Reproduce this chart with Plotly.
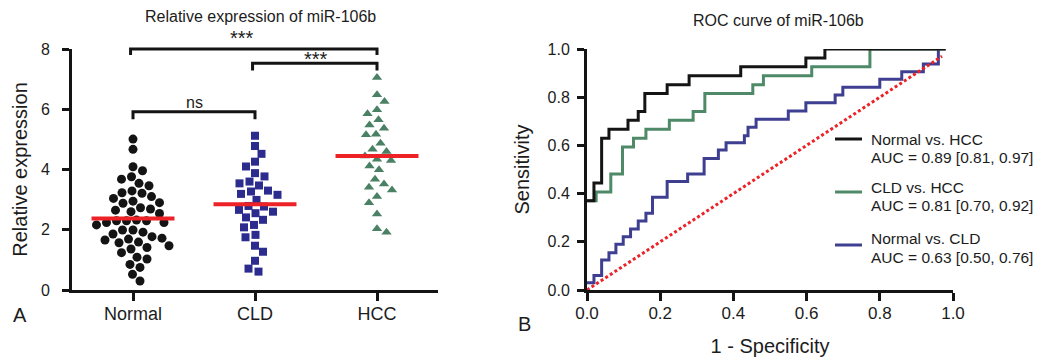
import numpy as np
import plotly.graph_objects as go

W, H = 1043, 362
OFF = 8  # page body margin offset seen in the screenshot
FONT = "Liberation Sans, Arial, Helvetica, sans-serif"
INK = "#1c1c1c"

# ---------------- data ----------------
groups = ["Normal", "CLD", "HCC"]
normal_expr = [5.01, 4.67, 4.09, 3.96, 3.76, 3.68, 3.54, 3.46, 3.29, 3.23, 3.21, 3.10,
               3.04, 2.95, 2.90, 2.88, 2.73, 2.69, 2.65, 2.60, 2.54, 2.32, 2.30, 2.30,
               2.30, 2.24, 2.24, 2.16, 1.99, 1.99, 1.92, 1.86, 1.77, 1.72, 1.69, 1.66,
               1.59, 1.57, 1.47, 1.41, 1.36, 1.24, 1.09, 1.03, 0.85, 0.75, 0.52, 0.30]
cld_expr = [5.12, 4.78, 4.52, 4.26, 4.10, 3.88, 3.77, 3.60, 3.54, 3.47, 3.30, 3.27,
            3.19, 3.16, 2.99, 2.79, 2.77, 2.66, 2.60, 2.55, 2.41, 2.33, 2.16, 2.08,
            1.83, 1.75, 1.47, 1.27, 0.97, 0.71, 0.61]
hcc_expr = [7.05, 6.48, 6.26, 5.98, 5.85, 5.65, 5.48, 5.37, 5.17, 5.15, 4.87, 4.67,
            4.60, 4.45, 4.34, 4.30, 4.12, 3.99, 3.68, 3.52, 3.41, 3.32, 3.10, 2.90,
            2.52, 2.03, 1.92]
group_centre = [2.37, 2.85, 4.45]

sig_pairs = [(0, 2), (1, 2), (0, 1)]
sig_labels = ["***", "***", "ns"]

roc_names = ["Normal vs. HCC", "CLD vs. HCC", "Normal vs. CLD"]
roc_auc = ["AUC = 0.89 [0.81, 0.97]", "AUC = 0.81 [0.70, 0.92]", "AUC = 0.63 [0.50, 0.76]"]
fpr_normal_hcc = [0.0, 0.019, 0.04, 0.06, 0.112, 0.14, 0.158, 0.219, 0.279, 0.42, 0.598, 0.65, 0.98]
tpr_normal_hcc = [0.370, 0.444, 0.630, 0.667, 0.704, 0.741, 0.815, 0.852, 0.889, 0.926, 0.963, 1.0, 1.0]
fpr_cld_hcc = [0.0, 0.025, 0.065, 0.097, 0.127, 0.161, 0.225, 0.29, 0.322, 0.453, 0.482, 0.614, 0.773, 0.98]
tpr_cld_hcc = [0.370, 0.407, 0.481, 0.593, 0.630, 0.667, 0.704, 0.741, 0.815, 0.852, 0.889, 0.926, 1.0, 1.0]
fpr_normal_cld = [0.0, 0.019, 0.04, 0.06, 0.079, 0.099, 0.119, 0.14, 0.161, 0.179, 0.219, 0.275,
                  0.32, 0.359, 0.38, 0.43, 0.44, 0.462, 0.55, 0.598, 0.678, 0.699, 0.80, 0.86,
                  0.919, 0.96]
tpr_normal_cld = [0.03, 0.06, 0.124, 0.155, 0.19, 0.221, 0.253, 0.286, 0.318, 0.385, 0.45, 0.481,
                  0.546, 0.581, 0.611, 0.64, 0.675, 0.708, 0.743, 0.777, 0.809, 0.841, 0.874, 0.906,
                  0.938, 1.0]
chance_fpr = [0.0, 0.97]
chance_tpr = [0.0, 0.97]

# ---------------- styling ----------------
C_BLACK = "#141414"
C_BLUE_PT = "#2c2c8f"
C_GREEN_PT = "#4a8063"
C_RED = "#ec2227"
C_GREEN_LN = "#4e8a68"
C_BLUE_LN = "#3f3f92"

# plot areas in screen pixels (as seen in the reference)
LX0, LX1 = 72, 438
RX0, RX1 = 587, 953
PY0, PY1 = 49, 290  # top, bottom
L_XR = (-0.5, 2.5)
L_YR = (0, 8)


def px(x):
    return (x - OFF) / W


def py(y):
    return 1 - (y - OFF) / H


def l_xpx(xc):
    return LX0 + (xc - L_XR[0]) / (L_XR[1] - L_XR[0]) * (LX1 - LX0)


def l_ypx(v):
    return PY1 - (v - L_YR[0]) / (L_YR[1] - L_YR[0]) * (PY1 - PY0)


PPX = (LX1 - LX0) / (L_XR[1] - L_XR[0])
PPY = (PY1 - PY0) / (L_YR[1] - L_YR[0])


def swarm_offsets(values, diam_px, max_px=70):
    vals = np.asarray(values, float)
    order = np.argsort(-vals, kind="stable")
    placed = []
    offs = np.zeros(len(vals))
    cands = np.arange(0, max_px + 0.25, 0.5)
    flip = 1
    for i in order:
        y = vals[i] * PPY
        found = None
        for c in cands:
            sides = (0.0,) if c == 0 else (flip * c, -flip * c)
            for s in sides:
                if all((s - a) ** 2 + (y - b) ** 2 >= diam_px ** 2 for a, b in placed):
                    found = s
                    break
            if found is not None:
                break
        if found != 0:
            flip = -np.sign(found)
        placed.append((found, y))
        offs[i] = found / PPX
    return offs


fig = go.Figure()

series = [(normal_expr, "circle", 9, C_BLACK, 10.0),
          (cld_expr, "square", 8, C_BLUE_PT, 10.0),
          (hcc_expr, "triangle-up", 9, C_GREEN_PT, 10.0)]
for gi, (vals, sym, size, col, d) in enumerate(series):
    offs = swarm_offsets(vals, d)
    fig.add_trace(go.Scatter(
        x=gi + offs, y=vals, mode="markers", name=groups[gi],
        marker=dict(symbol=sym, size=size, color=col, line=dict(width=0)),
        xaxis="x", yaxis="y", showlegend=False, cliponaxis=False))

for gi, m in enumerate(group_centre):
    fig.add_trace(go.Scatter(
        x=[gi - 0.34, gi + 0.34], y=[m, m], mode="lines",
        line=dict(color=C_RED, width=4), xaxis="x", yaxis="y", showlegend=False,
        hoverinfo="skip"))

roc = [(fpr_normal_cld, tpr_normal_cld, C_BLUE_LN, 2),
       (fpr_cld_hcc, tpr_cld_hcc, C_GREEN_LN, 1),
       (fpr_normal_hcc, tpr_normal_hcc, C_BLACK, 0)]
for fx, ty, col, ni in roc:
    fig.add_trace(go.Scatter(
        x=fx, y=ty, mode="lines", line=dict(color=col, width=3, shape="hv"),
        name=roc_names[ni], xaxis="x2", yaxis="y2", showlegend=False))

fig.add_trace(go.Scatter(
    x=chance_fpr, y=chance_tpr, mode="lines",
    line=dict(color=C_RED, width=3, dash="3px,2.5px"),
    xaxis="x2", yaxis="y2", showlegend=False, hoverinfo="skip"))

shapes = []
annotations = []

# significance brackets (left panel)
bracket_levels = [(8.0, 7.8), (7.53, 7.29), (5.92, 5.67)]
bracket_x_adj = [(-0.02, 0.0), (-0.02, 0.0), (0.0, 0.0)]
label_y = [8.33, 7.62, 6.24]
label_x = [0.89, None, None]
for (a, b), (top, foot), (da, db), lab, ly, lx in zip(sig_pairs, bracket_levels, bracket_x_adj,
                                                       sig_labels, label_y, label_x):
    xa, xb = l_xpx(a + da), l_xpx(b + db)
    yt, yf = l_ypx(top), l_ypx(foot)
    path = (f"M {px(xa)},{py(yf)} L {px(xa)},{py(yt)} "
            f"L {px(xb)},{py(yt)} L {px(xb)},{py(yf)}")
    shapes.append(dict(type="path", xref="paper", yref="paper", path=path,
                       line=dict(color=C_BLACK, width=3)))
    cx = (a + b) / 2 if lx is None else lx
    is_star = lab != "ns"
    annotations.append(dict(x=px(l_xpx(cx)), y=py(l_ypx(ly) + (-1 if is_star else 0)),
                            xref="paper", yref="paper", text=lab, showarrow=False,
                            font=dict(family=FONT, size=20 if is_star else 16, color=INK),
                            xanchor="center", yanchor="middle"))

# manual legend (right panel)
leg_line_y = [139, 192, 245]
leg_t1_y = [140, 187, 238]
leg_t2_y = [158, 205, 257]
leg_cols = [C_BLACK, C_GREEN_LN, C_BLUE_LN]
for i in range(3):
    shapes.append(dict(type="line", xref="paper", yref="paper",
                       x0=px(835), x1=px(862), y0=py(leg_line_y[i]), y1=py(leg_line_y[i]),
                       line=dict(color=leg_cols[i], width=3)))
    for txt, yy in ((roc_names[i], leg_t1_y[i]), (roc_auc[i], leg_t2_y[i])):
        annotations.append(dict(x=px(869), y=py(yy), xref="paper", yref="paper", text=txt,
                                showarrow=False, xanchor="left", yanchor="middle",
                                font=dict(family=FONT, size=15.5, color=INK)))

# titles and panel letters
annotations += [
    dict(x=px(260), y=py(17), xref="paper", yref="paper", text="Relative expression of miR-106b",
         showarrow=False, xanchor="center", yanchor="middle",
         font=dict(family=FONT, size=16, color=INK)),
    dict(x=px(778), y=py(21), xref="paper", yref="paper", text="ROC curve of miR-106b",
         showarrow=False, xanchor="center", yanchor="middle",
         font=dict(family=FONT, size=16, color=INK)),
    dict(x=px(20), y=py(315), xref="paper", yref="paper", text="A", showarrow=False,
         xanchor="center", yanchor="middle", font=dict(family=FONT, size=20, color=INK)),
    dict(x=px(524), y=py(324), xref="paper", yref="paper", text="B", showarrow=False,
         xanchor="center", yanchor="middle", font=dict(family=FONT, size=20, color=INK)),
]

axis_common = dict(showline=True, linewidth=3, linecolor=C_BLACK, ticks="outside",
                   tickwidth=2.5, tickcolor=C_BLACK, showgrid=False, zeroline=False,
                   fixedrange=True, automargin=False)

fig.update_layout(
    width=W, height=H, margin=dict(l=0, r=0, t=0, b=0),
    paper_bgcolor="white", plot_bgcolor="white", showlegend=False,
    font=dict(family=FONT, color=INK),
    xaxis=dict(domain=[px(LX0), px(LX1)], range=list(L_XR), tickvals=[0, 1, 2],
               ticktext=groups, ticklen=8, tickfont=dict(size=18), anchor="y",
               ticklabelstandoff=-3, **axis_common),
    yaxis=dict(domain=[py(PY1), py(PY0)], range=list(L_YR), tickvals=[0, 2, 4, 6, 8],
               ticklen=7, tickfont=dict(size=16), anchor="x", ticklabelstandoff=9,
               title=dict(text="Relative expression", font=dict(size=20), standoff=8),
               **axis_common),
    xaxis2=dict(domain=[px(RX0), px(RX1)], range=[0, 1], tickvals=[0, 0.2, 0.4, 0.6, 0.8, 1.0],
                tickformat=".1f", ticklen=8, tickfont=dict(size=17), anchor="y2",
                ticklabelstandoff=-2,
                title=dict(text="1 - Specificity", font=dict(size=20), standoff=17),
                **axis_common),
    yaxis2=dict(domain=[py(PY1), py(PY0)], range=[0, 1], tickvals=[0, 0.2, 0.4, 0.6, 0.8, 1.0],
                tickformat=".1f", ticklen=7, tickfont=dict(size=16), anchor="x2",
                ticklabelstandoff=4,
                title=dict(text="Sensitivity", font=dict(size=20), standoff=13),
                **axis_common),
    shapes=shapes, annotations=annotations,
)

fig.write_html("out.html")
